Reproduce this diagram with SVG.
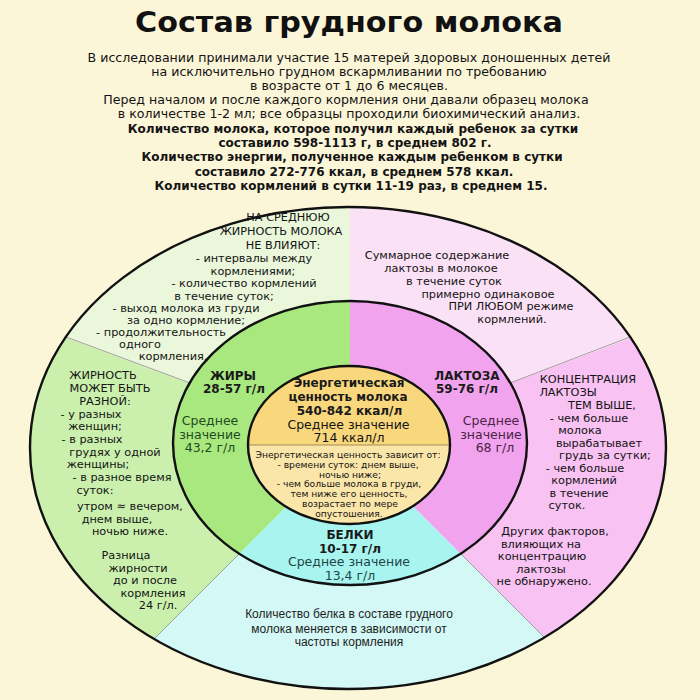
<svg xmlns="http://www.w3.org/2000/svg" width="700" height="700" viewBox="0 0 700 700">
<defs>
<style>
.t{font-family:"DejaVu Sans","Liberation Sans",sans-serif;fill:#141414}
.title{font-family:"DejaVu Sans","Liberation Sans",sans-serif;font-weight:bold;font-size:29px;fill:#111}
.hd{font-size:12.6px}
.hb{font-size:12px;font-weight:bold}
.seg{font-size:11.3px}
.lbl{font-size:12px;font-weight:bold;fill:#1a1a1a}
.avg{font-size:12.5px}
.gr{fill:#234a23}
.pk{fill:#4a2446}
.cy{fill:#1f4646}
.sm{font-size:9.2px}
.ar{font-family:"Liberation Sans",Arial,sans-serif;font-size:12px;fill:#1e1e1e}
.ring{fill:none;stroke:#111;stroke-width:2.4}
.div{stroke:#8c8c8c;stroke-width:0.8;fill:none}
</style>
<clipPath id="cOuter"><ellipse cx="348" cy="448" rx="318" ry="241"/></clipPath>
<clipPath id="cMid"><ellipse cx="350" cy="443" rx="177" ry="142"/></clipPath>
<clipPath id="cIn"><ellipse cx="349" cy="445" rx="101" ry="79"/></clipPath>
</defs>
<rect width="700" height="700" fill="#fcf6d8"/>

<g id="title"><text class="title" x="349" y="32" text-anchor="middle" textLength="428" lengthAdjust="spacingAndGlyphs">Состав грудного молока</text></g>

<g id="intro" class="t" text-anchor="middle">
<text class="hd" x="349" y="61.5">В исследовании принимали участие 15 матерей здоровых доношенных детей</text>
<text class="hd" x="349" y="75.5">на исключительно грудном вскармливании по требованию</text>
<text class="hd" x="349" y="89.5">в возрасте от 1 до 6 месяцев.</text>
<text class="hd" x="346" y="104">Перед началом и после каждого кормления они давали образец молока</text>
<text class="hd" x="349" y="118">в количестве 1-2 мл; все образцы проходили биохимический анализ.</text>
<text class="hb" x="353" y="132.5">Количество молока, которое получил каждый ребенок за сутки</text>
<text class="hb" x="355" y="147">составило 598-1113 г, в среднем 802 г.</text>
<text class="hb" x="352" y="161">Количество энергии, полученное каждым ребенком в сутки</text>
<text class="hb" x="354" y="175.5">составило 272-776 ккал, в среднем 578 ккал.</text>
<text class="hb" x="351" y="190">Количество кормлений в сутки 11-19 раз, в среднем 15.</text>
</g>

<g id="outer-ring" clip-path="url(#cOuter)">
<polygon fill="#eaf7da" points="350,443 350,-200 -500,-200 -500,128"/>
<polygon fill="#cbf0ae" points="350,443 -500,128 -500,1045 -252,1045"/>
<polygon fill="#d3f8f5" points="350,443 -252,1045 952,1045"/>
<polygon fill="#f8c2f2" points="350,443 952,1045 1200,1045 1200,125"/>
<polygon fill="#fbe1f6" points="350,443 1200,125 1200,-200 350,-200"/>
</g>
<g id="middle-ring" clip-path="url(#cMid)">
<polygon fill="#a9e87e" points="350,443 350,-200 -500,-200 -500,1045 -252,1045"/>
<polygon fill="#a8f5f0" points="350,443 -252,1045 952,1045"/>
<polygon fill="#f2a3ee" points="350,443 952,1045 1200,1045 1200,-200 350,-200"/>
</g>
<g id="center-fill" clip-path="url(#cIn)">
<rect x="240" y="360" width="220" height="85" fill="#f8d77d"/>
<rect x="240" y="445" width="220" height="90" fill="#fbe6aa"/>
<line x1="240" y1="445" x2="460" y2="445" stroke="#9a8450" stroke-width="0.9"/>
</g>

<g id="connectors">
<line class="div" x1="66" y1="337" x2="190" y2="383"/>
<line class="div" x1="630" y1="337" x2="510" y2="383"/>
<line class="div" x1="239" y1="554" x2="154" y2="639"/>
<line class="div" x1="461" y1="554" x2="545" y2="638"/>
</g>

<g id="rings">
<ellipse class="ring" cx="348" cy="448" rx="318" ry="241"/>
<ellipse class="ring" cx="350" cy="443" rx="177" ry="142"/>
<ellipse class="ring" cx="349" cy="445" rx="101" ry="79"/>
</g>

<g id="fat-factors-none" class="t seg" text-anchor="middle">
<text x="288" y="221">НА СРЕДНЮЮ</text>
<text x="281" y="235">ЖИРНОСТЬ МОЛОКА</text>
<text x="283" y="249">НЕ ВЛИЯЮТ:</text>
<text x="254" y="262">- интервалы между</text>
<text x="253" y="274.5">кормлениями;</text>
<text x="244" y="287">- количество кормлений</text>
<text x="224" y="299.5">в течение суток;</text>
<text x="186" y="312">- выход молока из груди</text>
<text x="186" y="324">за одно кормление;</text>
<text x="161" y="336">- продолжительность</text>
<text x="140" y="348">одного</text>
<text x="173" y="360">кормления.</text>
</g>

<g id="lactose-total" class="t seg" text-anchor="middle">
<text x="437" y="259">Суммарное содержание</text>
<text x="441" y="272">лактозы в молокое</text>
<text x="454" y="285">в течение суток</text>
<text x="488" y="297.5">примерно одинаковое</text>
<text x="511" y="310">ПРИ ЛЮБОМ режиме</text>
<text x="512" y="322.5">кормлений.</text>
</g>

<g id="fat-variable" class="t seg" text-anchor="middle">
<text x="103" y="379">ЖИРНОСТЬ</text>
<text x="110" y="392">МОЖЕТ БЫТЬ</text>
<text x="105" y="405">РАЗНОЙ:</text>
<text x="91" y="417.5">- у разных</text>
<text x="95" y="430">женщин;</text>
<text x="92" y="443">- в разных</text>
<text x="115" y="455.5">грудях у одной</text>
<text x="98" y="468">женщины;</text>
<text x="122" y="481">- в разное время</text>
<text x="95" y="493.5">суток:</text>
<text x="130" y="510">утром ≈ вечером,</text>
<text x="117" y="522.5">днем выше,</text>
<text x="130" y="535">ночью ниже.</text>
<text x="126" y="559">Разница</text>
<text x="138" y="571.5">жирности</text>
<text x="145" y="584">до и после</text>
<text x="153" y="596.5">кормления</text>
<text x="158" y="609">24 г/л.</text>
</g>

<g id="lactose-concentration" class="t seg" text-anchor="middle">
<text x="588" y="383">КОНЦЕНТРАЦИЯ</text>
<text x="568" y="396">ЛАКТОЗЫ</text>
<text x="602" y="409">ТЕМ ВЫШЕ,</text>
<text x="589" y="421.5">- чем больше</text>
<text x="580" y="434">молока</text>
<text x="599" y="446.5">вырабатывает</text>
<text x="605" y="459">грудь за сутки;</text>
<text x="585" y="471.5">- чем больше</text>
<text x="584" y="484">кормлений</text>
<text x="579" y="496.5">в течение</text>
<text x="567" y="509">суток.</text>
<text x="555" y="535">Других факторов,</text>
<text x="541" y="547.5">влияющих на</text>
<text x="542" y="560">концентрацию</text>
<text x="541" y="572.5">лактозы</text>
<text x="544" y="585">не обнаружено.</text>
</g>

<g id="protein-frequency" class="ar" text-anchor="middle">
<text x="349" y="618">Количество белка в составе грудного</text>
<text x="349" y="632.5">молока меняется в зависимости от</text>
<text x="349" y="646">частоты кормления</text>
</g>

<g id="fats" class="t" text-anchor="middle">
<text class="lbl" x="233" y="380">ЖИРЫ</text>
<text class="lbl" x="234" y="393">28-57 г/л</text>
<text class="avg gr" x="210" y="425">Среднее</text>
<text class="avg gr" x="210" y="438.5">значение</text>
<text class="avg gr" x="210" y="452">43,2 г/л</text>
</g>

<g id="lactose" class="t" text-anchor="middle">
<text class="lbl" x="467" y="380">ЛАКТОЗА</text>
<text class="lbl" x="467" y="393">59-76 г/л</text>
<text class="avg pk" x="491" y="425">Среднее</text>
<text class="avg pk" x="491" y="438.5">значение</text>
<text class="avg pk" x="495" y="452">68 г/л</text>
</g>

<g id="proteins" class="t" text-anchor="middle">
<text class="lbl" x="350" y="538.5">БЕЛКИ</text>
<text class="lbl" x="350" y="552.5">10-17 г/л</text>
<text class="avg cy" x="349" y="566">Среднее значение</text>
<text class="avg cy" x="350" y="579.5">13,4 г/л</text>
</g>

<g id="energy" class="t" text-anchor="middle">
<text class="lbl" x="349" y="387">Энергетическая</text>
<text class="lbl" x="348" y="400.5">ценность молока</text>
<text class="lbl" x="349.5" y="415">540-842 ккал/л</text>
<text class="avg" x="348.5" y="428.5">Среднее значение</text>
<text class="avg" x="349" y="442">714 ккал/л</text>
<text class="sm" x="348" y="458">Энергетическая ценность зависит от:</text>
<text class="sm" x="348" y="467.8">- времени суток: днем выше,</text>
<text class="sm" x="350" y="477.6">ночью ниже;</text>
<text class="sm" x="349" y="487.4">- чем больше молока в груди,</text>
<text class="sm" x="349" y="497.2">тем ниже его ценность,</text>
<text class="sm" x="350" y="507">возрастает по мере</text>
<text class="sm" x="349" y="516.8">опустошения.</text>
</g>
</svg>
